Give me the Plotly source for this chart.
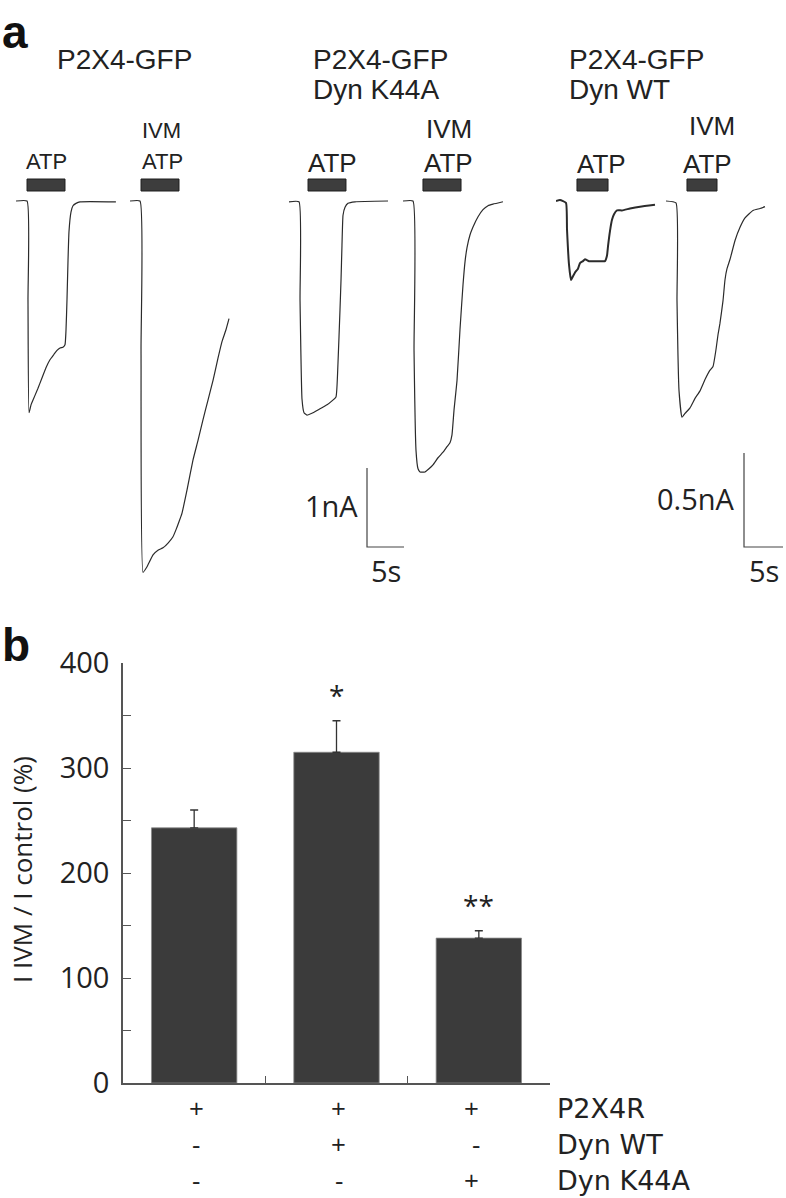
import plotly.graph_objects as go

# ---------------- DATA ----------------
# Panel a: whole-cell current traces (time in s, current in nA)
trace_names = ["P2X4-GFP ATP", "P2X4-GFP IVM+ATP", "K44A ATP", "K44A IVM+ATP", "WT ATP", "WT IVM+ATP"]

t1 = [0, 1.49, 1.62, 1.76, 2.03, 2.30, 2.97, 3.51, 4.05, 4.59, 5.14, 5.54, 5.95, 6.35, 6.62, 6.76, 6.89, 7.03, 7.16, 7.43, 7.70, 8.11, 8.65, 13.5]
i1 = [0, 0, -1.25, -2.68, -2.58, -2.52, -2.37, -2.24, -2.11, -2.01, -1.94, -1.89, -1.86, -1.85, -1.82, -1.63, -1.25, -0.75, -0.39, -0.14, -0.06, -0.03, -0.01, -0.01]

t2 = [0, 1.35, 1.49, 1.76, 2.30, 3.11, 3.78, 4.46, 5.14, 5.81, 6.22, 6.62, 7.03, 7.70, 8.51, 9.19, 9.86, 10.54, 11.22, 11.89, 12.43, 12.97, 13.38]
i2 = [0, 0, -1.89, -4.70, -4.63, -4.48, -4.42, -4.39, -4.33, -4.25, -4.16, -4.06, -3.95, -3.66, -3.28, -3.03, -2.77, -2.52, -2.27, -1.99, -1.78, -1.63, -1.49]

t3 = [0, 1.35, 1.49, 1.76, 2.03, 2.43, 3.24, 4.19, 5.14, 5.81, 6.35, 6.62, 6.89, 7.03, 7.16, 7.30, 7.57, 7.97, 8.92, 13.38]
i3 = [-0.01, -0.01, -1.25, -2.51, -2.68, -2.71, -2.68, -2.63, -2.58, -2.53, -2.48, -2.05, -1.38, -1.00, -0.56, -0.18, -0.08, -0.03, -0.01, 0]

t4 = [0, 1.35, 1.49, 1.76, 2.03, 2.30, 2.97, 3.51, 4.05, 4.73, 5.41, 5.95, 6.35, 6.62, 6.89, 7.30, 7.70, 8.11, 8.38, 8.65, 9.05, 9.46, 10.14, 10.81, 11.49, 12.16, 13.51]
i4 = [0, 0, -1.89, -3.16, -3.39, -3.43, -3.43, -3.39, -3.34, -3.25, -3.18, -3.11, -3.06, -2.96, -2.65, -2.27, -1.63, -1.06, -0.77, -0.59, -0.43, -0.33, -0.20, -0.11, -0.06, -0.04, -0.01]

t5 = [0, 0.51, 1.28, 1.41, 1.67, 1.92, 2.18, 2.44, 2.82, 3.08, 3.46, 3.72, 4.23, 4.74, 5.26, 5.77, 6.28, 6.54, 6.67, 6.92, 7.18, 7.44, 7.82, 8.46, 9.49, 10.77, 12.69]
i5 = [0, 0.005, -0.01, -0.15, -0.34, -0.42, -0.40, -0.38, -0.36, -0.33, -0.32, -0.31, -0.32, -0.32, -0.32, -0.32, -0.32, -0.29, -0.24, -0.16, -0.10, -0.07, -0.05, -0.05, -0.04, -0.03, -0.02]

t6 = [0, 1.28, 1.41, 1.67, 2.05, 2.44, 3.08, 3.72, 4.36, 5.0, 5.64, 6.03, 6.41, 6.67, 6.92, 7.31, 7.56, 7.82, 8.21, 8.85, 9.49, 10.13, 11.15, 12.05, 12.69]
i6 = [0, -0.01, -0.53, -1.01, -1.15, -1.13, -1.10, -1.05, -1.01, -0.95, -0.90, -0.88, -0.79, -0.71, -0.65, -0.53, -0.42, -0.36, -0.31, -0.21, -0.14, -0.09, -0.05, -0.04, -0.03]

trace_t = [t1, t2, t3, t4, t5, t6]
trace_i = [i1, i2, i3, i4, i5, i6]

# drug application periods (s, on each trace's own time axis)
atp_on = [1.49, 1.49, 2.57, 2.70, 2.69, 2.69]
atp_off = [6.62, 6.62, 7.70, 7.84, 6.67, 6.54]
drug_labels = [["ATP"], ["IVM", "ATP"], ["ATP"], ["IVM", "ATP"], ["ATP"], ["IVM", "ATP"]]

group_titles = [["P2X4-GFP"], ["P2X4-GFP", "Dyn K44A"], ["P2X4-GFP", "Dyn WT"]]

# scale bars (value, unit)
scale_nA = [1.0, 0.5]
scale_s = [5, 5]
scale_nA_labels = ["1nA", "0.5nA"]
scale_s_labels = ["5s", "5s"]

# Panel b: bar chart
b_categories = [0, 1, 2]
b_values = [243, 315, 138]
b_errors = [17, 30, 7]
b_signif = ["", "*", "**"]
table_rows = ["P2X4R", "Dyn WT", "Dyn K44A"]
table_signs = [["+", "+", "+"], ["-", "+", "-"], ["-", "-", "+"]]
y_ticks = [0, 100, 200, 300, 400]
y_minor = [50, 150, 250, 350]
y_title = "I IVM / I control (%)"

# ---------------- LAYOUT CONSTANTS (pixels) ----------------
W, H = 786, 1198
def px(x):
    return x / W
def py(y):
    return 1 - y / H

TRACE_LEFT_PX = [16, 130, 289, 403, 556, 666]
TRACE_GROUP = [0, 0, 1, 1, 2, 2]
TRACE_W_PX = 118
PX_PER_S = [7.4, 7.4, 7.8]
PX_PER_NA = [79, 79, 188]
BASE_PY = 201
TR_TOP_PY, TR_BOT_PY = 140, 610
TRACE_WIDTH = [1.2, 1.2, 1.2, 1.2, 2.0, 1.2]

ATP_BAR_PY = (179, 191)
LABEL_FONT = "Liberation Sans, Arial, sans-serif"
SANS2 = "Open Sans, sans-serif"
ROWFONT = "DejaVu Sans, sans-serif"
INK = "#222222"

fig = go.Figure()
layout = dict(
    template="none",
    width=W, height=H, margin=dict(l=0, r=0, t=0, b=0, pad=0, autoexpand=False),
    paper_bgcolor="white", plot_bgcolor="rgba(0,0,0,0)",
    showlegend=False,
)

def yrange(g):
    return [-(TR_BOT_PY - BASE_PY) / PX_PER_NA[g], (BASE_PY - TR_TOP_PY) / PX_PER_NA[g]]

y_for_group = {0: "y2", 1: "y2", 2: "y3"}
layout["yaxis2"] = dict(domain=[py(TR_BOT_PY), py(TR_TOP_PY)], range=yrange(0), visible=False,
                        anchor="x2", automargin=False)
layout["yaxis3"] = dict(domain=[py(TR_BOT_PY), py(TR_TOP_PY)], range=yrange(2), visible=False,
                        anchor="x6", automargin=False)

shapes = []
annotations = []

for k in range(6):
    g = TRACE_GROUP[k]
    xa = "xaxis%d" % (k + 2)
    xref = "x%d" % (k + 2)
    left = TRACE_LEFT_PX[k]
    wpx = min(TRACE_W_PX, W - left)
    layout[xa] = dict(domain=[px(left), px(left + wpx)],
                      range=[0, wpx / PX_PER_S[g]], visible=False,
                      anchor=y_for_group[g], automargin=False)
    fig.add_trace(go.Scatter(x=trace_t[k], y=trace_i[k], mode="lines",
                             line=dict(color="#2b2b2b", width=TRACE_WIDTH[k], shape="spline", smoothing=0.4),
                             xaxis=xref, yaxis=y_for_group[g], hoverinfo="skip", name=trace_names[k],
                             cliponaxis=False))
    shapes.append(dict(type="rect", xref=xref, yref="paper",
                       x0=atp_on[k], x1=atp_off[k], y0=py(ATP_BAR_PY[1]), y1=py(ATP_BAR_PY[0]),
                       fillcolor="#3d3d3d", line=dict(color="#1e1e1e", width=1)))

# drug labels
LABEL_SIZE = [22, 22, 26, 26, 26, 26]
ATP_LABEL_PY = [159, 159, 161, 161, 162, 162]
IVM_LABEL_PY = [128, 128, 127, 127, 124, 124]
ATP_XSHIFT = [0, 2, 5, 7, 9, 5]
IVM_XSHIFT = [0, 1, 0, 7, 0, 10]
for k in range(6):
    xref = "x%d" % (k + 2)
    mid = (atp_on[k] + atp_off[k]) / 2
    labs = drug_labels[k]
    if len(labs) == 1:
        items = [(labs[0], ATP_LABEL_PY[k], ATP_XSHIFT[k])]
    else:
        items = [(labs[0], IVM_LABEL_PY[k], IVM_XSHIFT[k]), (labs[1], ATP_LABEL_PY[k], ATP_XSHIFT[k])]
    for lab, yy, xs in items:
        annotations.append(dict(text=lab, xref=xref, yref="paper", x=mid, y=py(yy + 2), xshift=xs,
                                xanchor="center", yanchor="middle", showarrow=False,
                                font=dict(family=LABEL_FONT, size=LABEL_SIZE[k], color=INK)))

# group titles
TITLE_X_PX = [57, 313, 569]
TITLE_PY = [57, 87]
for g in range(3):
    for line, yy in zip(group_titles[g], TITLE_PY):
        annotations.append(dict(text=line, xref="paper", yref="paper", x=px(TITLE_X_PX[g] - 2), y=py(yy + 2),
                                xanchor="left", yanchor="middle", showarrow=False,
                                font=dict(family=LABEL_FONT, size=28, color=INK)))

# scale bars (own axes)
SB_CORNER = [(367, 547), (744, 547)]
SB_G = [0, 2]
for j in range(2):
    cx, cy = SB_CORNER[j]
    g = SB_G[j]
    xn, yn = 8 + j, 4 + j
    pad = 8
    xr = min(cx + 48, W)
    yh = 110
    layout["xaxis%d" % xn] = dict(domain=[px(cx - pad), px(xr)],
                                  range=[-pad / PX_PER_S[g], (xr - cx) / PX_PER_S[g]],
                                  visible=False, anchor="y%d" % yn, automargin=False)
    layout["yaxis%d" % yn] = dict(domain=[py(cy + pad), py(cy - yh)],
                                  range=[-pad / PX_PER_NA[g], yh / PX_PER_NA[g]],
                                  visible=False, anchor="x%d" % xn, automargin=False)
    fig.add_trace(go.Scatter(x=[0, 0, scale_s[j]], y=[scale_nA[j], 0, 0], mode="lines",
                             line=dict(color="#444", width=1.2), xaxis="x%d" % xn, yaxis="y%d" % yn,
                             hoverinfo="skip"))
    annotations.append(dict(text=scale_nA_labels[j], xref="x%d" % xn, yref="y%d" % yn,
                            x=0, y=scale_nA[j] / 2, xanchor="right", yanchor="middle", xshift=-7, yshift=2,
                            showarrow=False, font=dict(family=SANS2, size=29, color=INK)))
    annotations.append(dict(text=scale_s_labels[j], xref="x%d" % xn, yref="y%d" % yn,
                            x=scale_s[j] / 2, y=0, xanchor="center", yanchor="top", yshift=-2,
                            showarrow=False, font=dict(family=SANS2, size=29, color=INK)))

# ---------------- Panel b ----------------
AX_L, AX_R, AX_B, AX_T = 123, 550, 1083, 663
layout["xaxis"] = dict(domain=[px(AX_L), px(AX_R)], range=[-0.5, 2.5], showline=True,
                       linecolor="#555", linewidth=1.5, tickvals=[0.5, 1.5, 2.5], ticks="inside",
                       ticklen=7, tickcolor="#555", tickwidth=1.3, showticklabels=False,
                       showgrid=False, zeroline=False, anchor="y", automargin=False)
layout["yaxis"] = dict(domain=[py(AX_B), py(AX_T)], range=[0, 400], showline=True,
                       linecolor="#555", linewidth=1.5, tickvals=y_ticks, ticks="inside",
                       ticklen=8, tickcolor="#555", tickwidth=1.3,
                       minor=dict(tickvals=y_minor, ticks="inside", ticklen=8, tickcolor="#555", tickwidth=1.3),
                       tickfont=dict(family=SANS2, size=29, color=INK), ticklabelstandoff=6,
                       showgrid=False, zeroline=False, anchor="x", automargin=False)

fig.add_trace(go.Bar(x=b_categories, y=b_values, width=0.6,
                     marker=dict(color="#3b3b3b", line=dict(color="#8a8a8a", width=0.8)),
                     error_y=dict(type="data", array=b_errors, arrayminus=[0] * 3, symmetric=False,
                                  color="#333", thickness=1.3, width=4),
                     xaxis="x", yaxis="y", hoverinfo="skip"))

for c, v, e, s in zip(b_categories, b_values, b_errors, b_signif):
    if s:
        annotations.append(dict(text=s, xref="x", yref="y", x=c, y=v + e, yanchor="middle",
                                yshift=26, showarrow=False, font=dict(family=SANS2, size=28, color=INK)))

ROW_PY = [1108, 1144, 1180]
TABLE_XSHIFT = [2, 2, -7]
for r, row in enumerate(table_signs):
    for c, s in zip(b_categories, row):
        annotations.append(dict(text=s, xref="x", yref="paper", x=c, y=py(ROW_PY[r]),
                                xanchor="center", yanchor="middle", showarrow=False,
                                xshift=TABLE_XSHIFT[c] + (4 if s == "-" and c == 2 else 0),
                                font=dict(family=SANS2, size=26, color=INK)))
    annotations.append(dict(text=table_rows[r], xref="paper", yref="paper", x=px(555), y=py(ROW_PY[r]),
                            xanchor="left", yanchor="middle", showarrow=False,
                            font=dict(family=ROWFONT, size=27, color=INK)))

annotations.append(dict(text=y_title, xref="paper", yref="paper", x=px(22), y=py(870), textangle=-90,
                        xanchor="center", yanchor="middle", showarrow=False,
                        font=dict(family=SANS2, size=26, color=INK)))

# panel letters
annotations.append(dict(text="<b>a</b>", xref="paper", yref="paper", x=px(0), y=py(32), xanchor="left",
                        yanchor="middle", showarrow=False, font=dict(family=LABEL_FONT, size=46, color="#111")))
annotations.append(dict(text="<b>b</b>", xref="paper", yref="paper", x=px(0), y=py(645), xanchor="left",
                        yanchor="middle", showarrow=False, font=dict(family=LABEL_FONT, size=46, color="#111")))

layout["shapes"] = shapes
layout["annotations"] = annotations
fig.update_layout(**layout)
fig.write_html("out.html", config={"displayModeBar": False},
               post_script="document.body.style.margin='0px';")
